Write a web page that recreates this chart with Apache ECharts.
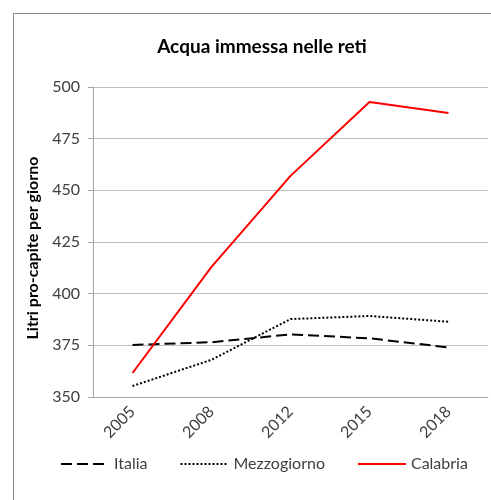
<!DOCTYPE html>
<html>
<head>
<meta charset="utf-8">
<script src="https://cdn.jsdelivr.net/npm/echarts@6/dist/echarts.min.js"></script>
<style>
html,body{margin:0;padding:0;background:#fff;}
#c{width:491px;height:500px;}
</style>
</head>
<body>
<div id="c"></div>
<script>
// Survey years and litres per inhabitant per day
const years = ['2005', '2008', '2012', '2015', '2018'];
const italia = [375.2, 376.5, 380.3, 378.4, 374.0];
const mezzogiorno = [355.3, 368.0, 387.7, 389.2, 386.4];
const calabria = [361.6, 413.0, 457.0, 492.7, 487.4];

const font = 'Lato, "Liberation Sans", sans-serif';
const chart = echarts.init(document.getElementById('c'), null, {renderer: 'canvas'});

// legend entries show only the line sample, no marker
const hideMarker = {opacity: 0};

chart.setOption({
  animation: false,
  textStyle: {fontFamily: font},
  graphic: [{
    type: 'rect',
    shape: {x: 13.5, y: 13.5, width: 500, height: 500},
    style: {fill: 'none', stroke: '#898989', lineWidth: 1},
    silent: true
  }],
  title: {
    text: 'Acqua immessa nelle reti',
    left: 257, top: 32, textAlign: 'center',
    textStyle: {fontFamily: font, fontSize: 19, fontWeight: 'bold', color: '#000'}
  },
  grid: {left: 93, right: 3, top: 87, bottom: 103, containLabel: false},
  xAxis: {
    type: 'category',
    data: years,
    boundaryGap: true,
    axisLine: {lineStyle: {color: '#a6a6a6', width: 1}},
    axisTick: {show: false},
    axisLabel: {rotate: 45, fontSize: 16, color: '#404040', margin: 12, fontFamily: font}
  },
  yAxis: {
    type: 'value',
    min: 350, max: 500, interval: 25,
    name: 'Litri pro-capite per giorno',
    nameLocation: 'middle',
    nameGap: 51,
    nameRotate: 90,
    nameTextStyle: {fontSize: 16, fontWeight: 'bold', color: '#000', fontFamily: font, padding: [0, 12, 0, 0]},
    axisLine: {show: true, lineStyle: {color: '#a6a6a6', width: 1}},
    axisTick: {show: true, length: 5, lineStyle: {color: '#a6a6a6'}},
    axisLabel: {fontSize: 16, color: '#404040', margin: 13, fontFamily: font},
    splitLine: {lineStyle: {color: '#bfbfbf', width: 1}}
  },
  legend: {
    bottom: 23,
    left: 55,
    itemWidth: 48,
    itemHeight: 10,
    itemGap: 32,
    textStyle: {fontSize: 16, color: '#404040', fontFamily: font},
    data: [
      {name: 'Italia', itemStyle: hideMarker},
      {name: 'Mezzogiorno', itemStyle: hideMarker},
      {name: 'Calabria', itemStyle: hideMarker}
    ]
  },
  series: [
    {
      name: 'Italia', type: 'line', data: italia,
      symbol: 'none',
      lineStyle: {color: '#000', width: 2, type: [11, 5]},
      itemStyle: {color: '#000'}
    },
    {
      name: 'Mezzogiorno', type: 'line', data: mezzogiorno,
      symbol: 'none',
      lineStyle: {color: '#000', width: 2, type: [2, 2]},
      itemStyle: {color: '#000'}
    },
    {
      name: 'Calabria', type: 'line', data: calabria,
      symbol: 'none',
      lineStyle: {color: '#ff0000', width: 2, type: 'solid'},
      itemStyle: {color: '#ff0000'}
    }
  ]
});
</script>
</body>
</html>
